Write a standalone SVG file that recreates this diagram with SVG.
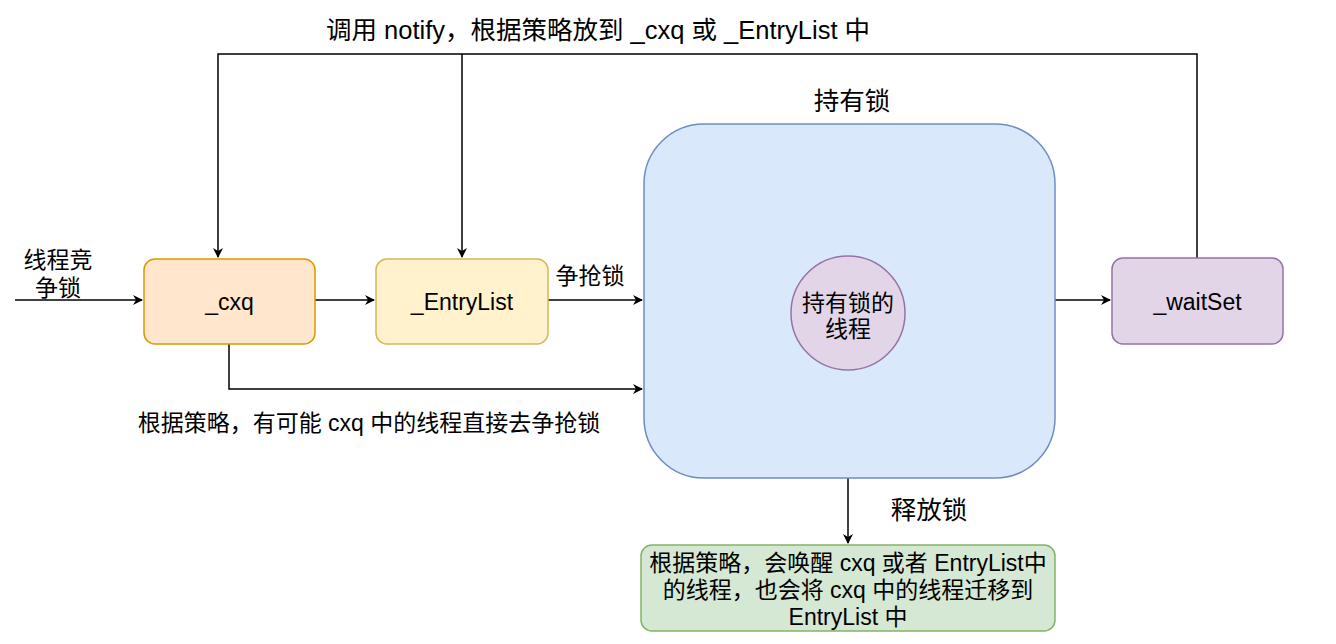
<svg xmlns="http://www.w3.org/2000/svg" width="1336" height="644" viewBox="0 0 1336 644">
<defs>
<marker id="arr" markerWidth="10" markerHeight="10" refX="9" refY="5" orient="auto" markerUnits="userSpaceOnUse">
<path d="M0,0 L10,5 L0,10 L3,5 Z" fill="#000"/>
</marker>
<style>
text{font-family:"Liberation Sans","Noto Sans CJK SC",sans-serif;font-size:23px;fill:#000;}
.c{text-anchor:middle;}
.big{font-size:25.5px;}
.ln{fill:none;stroke:#000;stroke-width:1.5;}
</style>
</defs>
<rect width="1336" height="644" fill="#fff"/>
<g id="connectors">
<path class="ln" d="M15,300 H142" marker-end="url(#arr)"/>
<path class="ln" d="M315,300 H374" marker-end="url(#arr)"/>
<path class="ln" d="M548,300 H642" marker-end="url(#arr)"/>
<path class="ln" d="M1055,300 H1110" marker-end="url(#arr)"/>
<path class="ln" d="M229,344 V389 H642" marker-end="url(#arr)"/>
<path class="ln" d="M1197,258 V54 H218 V257" marker-end="url(#arr)"/>
<path class="ln" d="M462,54 V257" marker-end="url(#arr)"/>
<path class="ln" d="M848,478 V543" marker-end="url(#arr)" stroke="#333"/>
</g>
<g id="labels">
<text class="c big" x="598" y="39">调用 notify，根据策略放到 _cxq 或 _EntryList 中</text>
<text class="c big" x="852" y="110">持有锁</text>
<text class="c" x="58" y="268">线程竞</text>
<text class="c" x="58" y="296">争锁</text>
<text class="c" x="590" y="284">争抢锁</text>
<text class="c" x="369" y="431">根据策略，有可能 cxq 中的线程直接去争抢锁</text>
<text class="c big" x="929" y="519">释放锁</text>
</g>
<g id="cxq">
<rect x="144" y="259" width="171" height="85" rx="11" fill="#ffe6cc" stroke="#d79b00" stroke-width="1.5"/>
<text class="c" x="229.5" y="310">_cxq</text>
</g>
<g id="entrylist">
<rect x="376" y="259" width="172" height="85" rx="11" fill="#fff2cc" stroke="#d6b656" stroke-width="1.5"/>
<text class="c" x="462" y="310">_EntryList</text>
</g>
<g id="holder">
<rect x="644" y="124" width="411" height="354" rx="60" fill="#dae8fc" stroke="#6c8ebf" stroke-width="1.5"/>
</g>
<g id="thread">
<circle cx="848" cy="313" r="57" fill="#e1d5e7" stroke="#9673a6" stroke-width="1.5"/>
<text class="c" x="848" y="311">持有锁的</text>
<text class="c" x="848" y="337">线程</text>
</g>
<g id="waitset">
<rect x="1112" y="258" width="171" height="86" rx="11" fill="#e1d5e7" stroke="#9673a6" stroke-width="1.5"/>
<text class="c" x="1197.5" y="310">_waitSet</text>
</g>
<g id="release">
<rect x="641" y="545" width="414" height="86" rx="11" fill="#d5e8d4" stroke="#82b366" stroke-width="1.5"/>
<text class="c" x="848" y="571">根据策略，会唤醒 cxq 或者 EntryList中</text>
<text class="c" x="848" y="598">的线程，也会将 cxq 中的线程迁移到</text>
<text class="c" x="848" y="625">EntryList 中</text>
</g>
</svg>
